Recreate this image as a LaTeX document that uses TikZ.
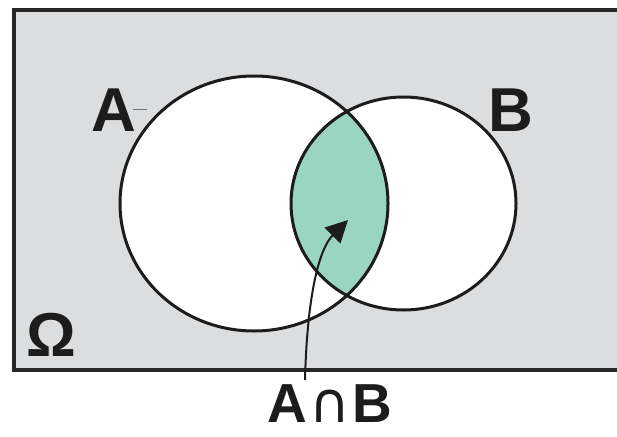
\documentclass[tikz,border=0pt]{standalone}
\usepackage{fontspec}
\setmainfont{Liberation Sans}
\newfontfamily\capfont{DejaVu Sans}
\usetikzlibrary{arrows.meta, positioning}
\definecolor{omegagray}{RGB}{220,221,223}
\definecolor{lensgreen}{RGB}{153,213,192}
\definecolor{inkblack}{RGB}{28,28,28}

\begin{document}
\begin{tikzpicture}[x=1pt, y=-1pt,
		setlbl/.style={font=\fontsize{62}{62}\selectfont\bfseries, inner sep=0pt, text=inkblack},
		setedge/.style={draw=inkblack, line width=3pt}]
		\useasboundingbox (0,0) rectangle (617,436);
		% sample space
		\begin{scope}
			\clip (0,0) rectangle (617,436);
			\draw[line width=4.5pt, draw=inkblack!95, fill=omegagray] (14,10) rectangle (660,370);
		\end{scope}
		% the two sets and their overlap
		\fill[white] (254,203.5) ellipse [x radius=134, y radius=127.5];
		\fill[white] (403.5,203.5) ellipse [x radius=112.5, y radius=106.5];
		\begin{scope}
			\clip (254,203.5) ellipse [x radius=134, y radius=127.5];
			\fill[lensgreen] (403.5,203.5) ellipse [x radius=112.5, y radius=106.5];
		\end{scope}
		\draw[setedge] (254,203.5) ellipse [x radius=134, y radius=127.5];
		\draw[setedge] (403.5,203.5) ellipse [x radius=112.5, y radius=106.5];
		% labels
		\node[setlbl] (A) at (114,110.5) {A};
		\node[setlbl] (B) at (510.5,110) {B};
		\node[setlbl] (Om) at (51.5,334.5) {Ω};
		\node[setlbl, font=\fontsize{55}{55}\selectfont\bfseries, anchor=base] (AB) at (330,422)
			{A\hspace{2pt}{\capfont\mdseries\fontsize{56}{56}\selectfont ∩}\hspace{2pt}B};
		\draw[line width=0.8pt, inkblack!60] (A.east) ++(-4,-1) -- ++(14,0);
		% pointer into the overlap
		\coordinate (tail) at (305,380);
		\coordinate (tip) at (348,220);
		\draw[line width=2pt, inkblack, -{Triangle[length=22pt, width=22pt]}]
			(tail) .. controls (307,300) and (318,250) .. (tip);
	\end{tikzpicture}
\end{document}
